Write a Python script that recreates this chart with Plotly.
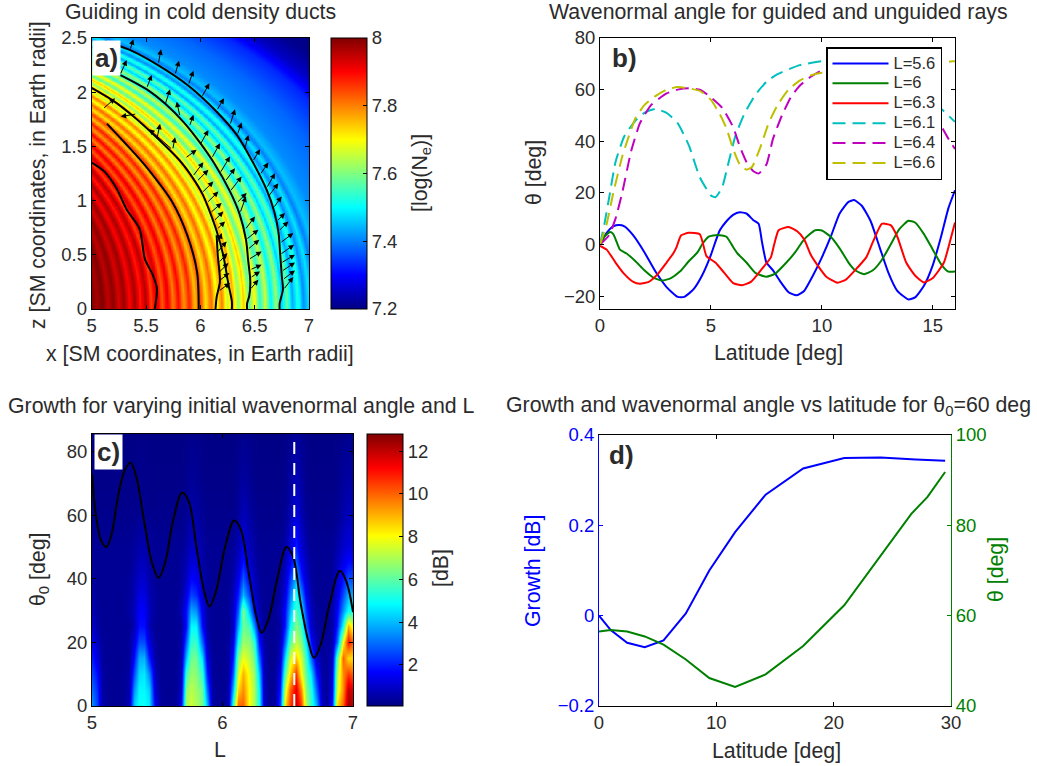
import numpy as np
import plotly.graph_objects as go

W, H = 1037, 766
FONT = "Liberation Sans"
INK = "#2b2b2b"
JET = [[0, "#000083"], [0.125, "#0000ff"], [0.375, "#00ffff"], [0.625, "#ffff00"], [0.875, "#ff0000"], [1, "#800000"]]

# ---------- panel a: log density along the L shell
duct_L = [4.9, 5.0, 5.05, 5.1, 5.15, 5.2, 5.25, 5.3, 5.35, 5.4, 5.45, 5.5, 5.55, 5.6, 5.65, 5.7, 5.75, 5.8, 5.85,
          5.9, 5.95, 6.0, 6.05, 6.1, 6.15, 6.2, 6.25, 6.3, 6.35, 6.4, 6.45, 6.5, 6.55, 6.6, 6.65, 6.7, 6.75, 6.8,
          6.85, 6.9, 6.95, 7.0, 7.05, 7.1, 7.2, 7.5, 7.8, 8.0, 8.2, 8.4, 8.6]
duct_logNe = [8.0, 8.0, 7.97, 8.0, 7.95, 7.99, 7.93, 7.98, 7.90, 7.97, 7.88, 7.96, 7.85, 7.94, 7.83, 7.92, 7.80, 7.90, 7.78,
              7.88, 7.75, 7.85, 7.72, 7.82, 7.69, 7.80, 7.65, 7.77, 7.61, 7.74, 7.57, 7.70, 7.53, 7.66, 7.49, 7.62, 7.46, 7.58,
              7.43, 7.53, 7.41, 7.48, 7.40, 7.45, 7.41, 7.38, 7.33, 7.25, 7.21, 7.2, 7.2]

ray1_x = [5.0, 5.12, 5.23, 5.32, 5.44, 5.49, 5.56, 5.60, 5.58]
ray1_z = [1.35, 1.265, 1.11, 0.92, 0.74, 0.46, 0.32, 0.19, 0.0]
ray2_x = [5.14, 5.44, 5.54, 5.74, 5.88, 5.97, 5.985]
ray2_z = [1.71, 1.385, 1.265, 0.99, 0.68, 0.34, 0.0]
ray3_x = [5.0, 5.2, 5.38, 5.6, 5.81, 5.93, 6.02, 6.09, 6.15, 6.21, 6.26, 6.29, 6.29]
ray3_z = [2.04, 1.92, 1.78, 1.58, 1.37, 1.21, 1.06, 0.89, 0.72, 0.5, 0.22, 0.07, 0.0]
ray3b_x = [6.15, 6.16, 6.18, 6.15, 6.14]
ray3b_z = [0.68, 0.50, 0.25, 0.11, 0.0]
ray4_x = [5.26, 5.5, 5.68, 5.85, 6.0, 6.13, 6.27, 6.36, 6.42, 6.44, 6.46, 6.45, 6.43, 6.43]
ray4_z = [2.16, 2.03, 1.89, 1.72, 1.53, 1.34, 1.09, 0.88, 0.64, 0.45, 0.25, 0.12, 0.05, 0.0]
ray5_x = [5.12, 5.35, 5.61, 5.89, 6.15, 6.34, 6.48, 6.61, 6.68, 6.72, 6.735, 6.75, 6.76, 6.73, 6.73]
ray5_z = [2.47, 2.39, 2.25, 2.06, 1.82, 1.6, 1.36, 1.1, 0.9, 0.7, 0.5, 0.3, 0.18, 0.05, 0.0]

arrow_x0 = [5.353, 5.613, 5.767, 5.890, 6.012, 6.150, 6.273, 6.340, 6.411, 6.482, 6.549, 6.610, 6.626, 6.672, 6.702, 6.718,
            6.733, 6.733, 6.742, 6.748, 6.758, 6.764,
            5.261, 5.506, 5.675, 5.813, 5.899, 5.997, 6.104, 6.181, 6.227, 6.273, 6.334, 6.365, 6.411, 6.420, 6.433,
            6.442, 6.457, 6.457, 6.457,
            5.101, 5.414, 5.598, 5.745, 5.859, 5.929, 5.966, 6.012, 6.058, 6.089, 6.120, 6.150, 6.166, 6.150, 6.166,
            6.166, 6.166, 6.166, 5.745]
arrow_z0 = [2.389, 2.260, 2.159, 2.067, 1.953, 1.830, 1.698, 1.606, 1.483, 1.361, 1.238, 1.115, 1.038, 0.931, 0.808, 0.716,
            0.608, 0.501, 0.424, 0.347, 0.270, 0.178,
            2.159, 2.036, 1.883, 1.775, 1.683, 1.514, 1.391, 1.253, 1.176, 1.084, 0.977, 0.885, 0.731, 0.639, 0.547,
            0.455, 0.362, 0.286, 0.178,
            1.843, 1.800, 1.560, 1.468, 1.391, 1.222, 1.176, 1.069, 0.977, 0.885, 0.808, 0.731, 0.608, 0.516, 0.424,
            0.332, 0.255, 0.163, 1.468]
arrow_x1 = [5.383, 5.638, 5.804, 5.936, 6.083, 6.218, 6.319, 6.380, 6.442, 6.549, 6.626, 6.687, 6.718, 6.748, 6.779, 6.810,
            6.856, 6.862, 6.871, 6.871, 6.871, 6.856,
            5.322, 5.552, 5.721, 5.782, 5.936, 6.074, 6.181, 6.273, 6.319, 6.380, 6.426, 6.420, 6.503, 6.534, 6.543,
            6.564, 6.564, 6.549, 6.534,
            5.215, 5.267, 5.629, 5.767, 5.966, 6.028, 6.074, 6.120, 6.166, 6.196, 6.212, 6.227, 6.196, 6.242, 6.249,
            6.258, 6.267, 6.273, 5.528]
arrow_z1 = [2.488, 2.396, 2.291, 2.199, 2.082, 1.944, 1.843, 1.720, 1.606, 1.474, 1.351, 1.253, 1.161, 1.038, 0.885, 0.808,
            0.700, 0.593, 0.501, 0.430, 0.356, 0.295,
            2.297, 2.159, 2.027, 1.913, 1.791, 1.652, 1.529, 1.407, 1.299, 1.222, 1.069, 1.038, 0.854, 0.731, 0.639,
            0.531, 0.408, 0.347, 0.270,
            1.944, 1.775, 1.708, 1.585, 1.468, 1.354, 1.284, 1.176, 1.084, 0.977, 0.900, 0.808, 0.700, 0.623, 0.516,
            0.424, 0.332, 0.240, 1.658]

# ---------- panel b
lat_56 = [0, .3, .6, .85, 1.1, 1.5, 2, 2.5, 3, 3.5, 3.8, 4.2, 4.6, 5, 5.2, 5.4, 5.7, 6, 6.3, 6.6, 6.9, 7.15, 7.3, 7.5, 7.8, 8.1,
          8.5, 8.85, 9.2, 9.6, 10, 10.4, 10.8, 11.2, 11.45, 11.8, 12.2, 12.6, 13, 13.4, 13.9, 14.2, 14.6, 15, 15.4, 15.7, 16]
theta_56 = [0, 4.5, 7, 7.5, 7, 3.5, -3, -10.5, -16.5, -20.3, -20.3, -17.5, -12, -4, 1, 5.5, 9, 11.5, 12.5, 12, 9.5, 8, 1, -7, -10, -14,
            -18.5, -19.7, -18, -12, -5, 3, 12, 16.5, 17.2, 15, 9, -1, -11, -18, -21.3, -20.5, -16, -8, 4, 14, 21]
lat_60 = [0, .2, .45, .6, .75, .9, 1.2, 1.6, 2, 2.4, 2.8, 3.2, 3.6, 4, 4.4, 4.6, 4.9, 5.3, 5.7, 6, 6.2, 6.6, 7, 7.5, 7.9, 8.4, 8.8,
          9.2, 9.7, 10, 10.4, 10.8, 11.2, 11.5, 11.9, 12.3, 12.7, 13.1, 13.5, 13.9, 14.2, 14.6, 15, 15.4, 15.7, 16]
theta_60 = [0, 3, 4.8, 4, 1, -2, -3.5, -6.5, -10, -12.8, -14, -13, -10.5, -6.5, -3, 0, 3, 3.7, 3, -1, -3.5, -7, -11, -12.5, -11.3, -7, -3,
            2, 5.5, 5.4, 3, -1.5, -7, -10, -11.5, -10, -6, 0, 6, 9.2, 8.5, 4, -2, -8, -10.5, -10.5]
lat_63 = [0, .3, .7, 1.1, 1.5, 1.8, 2.2, 2.6, 3, 3.3, 3.45, 3.65, 4, 4.5, 4.8, 5.2, 5.6, 6, 6.4, 6.8, 7.2, 7.7, 7.85, 8.05, 8.5, 8.9,
          9.2, 9.5, 9.8, 10.2, 10.7, 11.1, 11.6, 12, 12.3, 12.7, 13.1, 13.4, 13.8, 14.2, 14.6, 15, 15.5, 15.8, 16]
theta_63 = [-.5, -2, -7, -11.5, -14.5, -15.2, -14.5, -11.5, -7, -3.5, -1, 3.5, 4.5, 4, -4.5, -7, -11, -15, -15.8, -14.5, -10.5, -5, 0, 5.5, 6.8, 5,
            2, -4, -8, -12.5, -14.8, -13.5, -9, -5, 1, 8, 7.5, 3, -7, -12, -14.7, -13, -7, 2, 8.5]
lat_61 = [0, .2, .45, .7, 1.1, 1.6, 2, 2.5, 3, 3.5, 4, 4.5, 5, 5.2, 5.5, 5.8, 6.1, 6.5, 7, 7.5, 8, 9, 10, 10.5, 12, 13, 14.5, 15.2, 16]
theta_61 = [0, 8, 20, 32, 42, 48, 51, 52.5, 51, 47, 38.5, 26, 19, 18.3, 22, 32, 42, 50.5, 58, 63, 66, 69.5, 71, 71.5, 72, 67, 59, 54, 47.5]
lat_64 = [0, .4, .7, 1, 1.4, 1.8, 2.3, 3, 3.5, 4, 4.5, 5, 5.5, 6, 6.3, 6.6, 6.9, 7.15, 7.5, 7.8, 8.2, 8.6, 9, 9.5, 10, 10.6, 12, 14, 15.3, 15.7, 16]
theta_64 = [0, 3.5, 10, 20, 36, 47, 54, 58.5, 60, 60.5, 60, 57, 53, 45.5, 38, 32, 28.5, 27.5, 31, 41, 50, 57, 61.5, 65, 67.5, 69, 68, 60, 47, 41, 37]
lat_66 = [0, .3, .6, 1, 1.3, 1.6, 2, 2.5, 3, 3.5, 4, 4.5, 5, 5.4, 5.7, 6, 6.3, 6.6, 6.85, 7.2, 7.6, 8, 8.5, 9, 9.5, 10, 10.5, 12, 14, 15.9, 16]
theta_66 = [0, 8, 20, 34, 42, 49, 54, 57.5, 60, 61, 60.5, 59.5, 56, 50.5, 45, 37, 31, 29, 30, 37, 47, 54, 60, 63.5, 65.5, 66.5, 66.5, 67, 69, 71, 71]

# ---------- panel c
growth_L = [5.00, 5.04, 5.08, 5.12, 5.16, 5.20, 5.24, 5.28, 5.32, 5.36, 5.40, 5.44, 5.48, 5.52, 5.56, 5.60, 5.64, 5.68, 5.72, 5.76,
            5.80, 5.84, 5.88, 5.92, 5.96, 6.00, 6.04, 6.08, 6.12, 6.16, 6.20, 6.24, 6.28, 6.32, 6.36, 6.40, 6.44, 6.48, 6.52, 6.56,
            6.60, 6.64, 6.68, 6.72, 6.76, 6.80, 6.84, 6.88, 6.92, 6.96, 7.00]
growth_theta0 = [0, 5, 10, 15, 20, 25, 30, 35, 40, 45, 50, 60, 70, 85.5]
growth_dB = [
 [3.5,2.5,.6,.3,.3,.3,.3,.8,4.2,5.0, 5.0,4.6,1.5,.4,.3,.3,.4,1.5,7.0,7.4, 7.0,6.4,4.0,.6,.3,.3,.6,5.5,10,10, 8,7,5,1,.3,.5,2.5,8.5,10.5,11.8, 10.5,7,5.5,4,.8,.4,2,8.5,10,12.5, 12],
 [3.0,2.2,.5,.3,.3,.3,.3,.6,3.5,4.8, 4.8,4.3,1.0,.4,.3,.3,.3,1.0,6.5,7.2, 6.8,6.2,3.0,.5,.3,.3,.5,4.0,8.5,9.5, 8,7,4.8,.8,.3,.4,2.0,7.5,10,11.5, 9.5,6.5,5.2,3,.6,.4,1.5,7.5,9.5,12, 11.5],
 [2.5,1.8,.5,.3,.3,.3,.3,.5,2.6,4.4, 4.6,3.4,.8,.3,.3,.3,.3,.8,5.5,6.8, 6.5,5.5,2,.4,.3,.3,.4,2.8,7.5,9, 7.8,6.8,4.2,.7,.3,.4,1.5,6,8.5,10.5, 8,6,4.5,2,.5,.4,1.2,7,9.5,10.5, 10],
 [2.0,1.2,.4,.3,.3,.3,.3,.4,1.8,3.8, 3.9,2.0,.5,.3,.3,.3,.3,.6,4,6.3, 6.2,4.5,1.2,.4,.3,.3,.4,2,6.5,7.8, 7.2,6.2,3,.6,.3,.3,1,4.5,7.5,8.6, 7.5,5.5,3,1,.4,.4,.9,6,10,8.5, 8.5],
 [1.5,.8,.4,.3,.3,.3,.3,.4,1.2,2.6, 2.6,1.2,.4,.3,.3,.3,.3,.5,2.8,5.5, 5.5,3,.8,.3,.3,.3,.4,1.3,5,6.8, 6.6,5.5,1.8,.5,.3,.3,.7,3,6,7.2, 6.5,4.5,1.8,.6,.4,.4,.6,3,8,11, 10],
 [1.0,.5,.3,.3,.3,.3,.3,.3,.7,1.8, 1.8,.7,.3,.3,.3,.3,.3,.4,1.8,4.8, 4.8,1.8,.5,.3,.3,.3,.3,.9,3.8,6.2, 5.8,3.5,.9,.4,.3,.3,.5,2,4.8,6.5, 5.6,3,.9,.5,.3,.3,.5,2,5,9, 7.5],
 [.8,.4,.3,.3,.3,.3,.3,.5,.8,1.6, 1.6,.8,.4,.3,.3,.3,.3,.7,1.8,3.8, 3.5,1.4,.5,.3,.3,.3,.4,.9,2.8,6.5, 4,1.8,.6,.3,.3,.3,.7,1.8,4,5.8, 4.8,2.2,.8,.4,.3,.3,.6,1.6,3.5,5, 5],
 [.6,.3,.3,.3,.3,.3,.3,.4,.7,1.3, 1.3,.7,.4,.3,.3,.3,.3,.5,1.3,2.5, 2.2,1,.4,.3,.3,.3,.3,.8,2,4, 2.5,1,.5,.3,.3,.3,.5,1.3,3.2,5, 3.5,1.4,.6,.3,.3,.3,.5,1.2,2.6,3.8, 3.8],
 [.5,.3,.3,.3,.3,.3,.3,.4,.6,1, 1,.6,.3,.3,.3,.3,.3,.4,.9,1.7, 1.5,.7,.4,.3,.3,.3,.3,.6,1.4,2.8, 1.6,.8,.4,.3,.3,.3,.4,1,2.4,4, 2.2,1,.5,.3,.3,.3,.4,1,1.9,2.6, 2.6],
 [.4,.3,.3,.3,.3,.3,.3,.3,.5,.8, .8,.5,.3,.3,.3,.3,.3,.4,.7,1.2, 1.1,.6,.3,.3,.3,.3,.3,.5,1,1.9, 1.1,.6,.3,.3,.3,.3,.4,.8,1.6,2.8, 1.5,.8,.4,.3,.3,.3,.4,.8,1.4,1.8, 1.8],
 [.3,.3,.3,.3,.3,.3,.3,.3,.4,.6, .6,.4,.3,.3,.3,.3,.3,.3,.5,.9, .8,.5,.3,.3,.3,.3,.3,.4,.7,1.3, .8,.5,.3,.3,.3,.3,.3,.6,1.2,2, 1.1,.6,.3,.3,.3,.3,.3,.6,1,1.2, 1.2],
 [.2,.2,.2,.2,.2,.2,.2,.2,.2,.3, .3,.2,.2,.2,.2,.2,.2,.2,.3,.6, .5,.3,.2,.2,.2,.2,.2,.2,.4,.8, .5,.3,.2,.2,.2,.2,.2,.3,.7,1.3, .7,.3,.2,.2,.2,.2,.2,.3,.6,.8, .8],
 [.15,.15,.15,.15,.15,.15,.15,.15,.15,.2, .2,.15,.15,.15,.15,.15,.15,.15,.2,.4, .3,.2,.15,.15,.15,.15,.15,.15,.3,.5, .3,.2,.15,.15,.15,.15,.15,.2,.5,.8, .5,.2,.15,.15,.15,.15,.15,.2,.4,.5, .5],
 [.12,.12,.12,.12,.12,.12,.12,.12,.12,.15, .15,.12,.12,.12,.12,.12,.12,.12,.15,.2, .2,.15,.12,.12,.12,.12,.12,.12,.15,.25, .2,.15,.12,.12,.12,.12,.12,.15,.25,.4, .25,.15,.12,.12,.12,.12,.12,.15,.2,.25, .25],
]
for row in growth_dB:
    assert len(row) == len(growth_L), len(row)

black_L = [5, 5.03, 5.07, 5.11, 5.15, 5.2, 5.25, 5.295, 5.34, 5.4, 5.46, 5.51, 5.56, 5.62, 5.69, 5.74, 5.8, 5.86, 5.90, 5.95, 6.02, 6.09, 6.14,
           6.2, 6.26, 6.30, 6.35, 6.42, 6.49, 6.54, 6.6, 6.66, 6.70, 6.75, 6.82, 6.90, 6.95, 7]
black_theta0 = [73, 60, 52, 50, 54, 66, 74, 76.5, 72, 58, 45, 40.3, 45, 58, 67, 64.5, 50, 36, 31.3, 36, 50, 58.3, 55.5,
                42, 28, 23, 27, 40, 50, 47, 32, 20, 15.2, 19, 32, 42.5, 39, 29.5]
marker_L = [6.55, 6.55]
marker_theta0 = [0, 85.5]

# ---------- panel d
d_lat = [0, 1, 2.4, 3.9, 5.5, 7.4, 9.4, 11.6, 14.2, 17.4, 20.9, 24, 27, 29.5]
d_growth = [0, -.032, -.06, -.07, -.055, .005, .1, .185, .268, .326, .349, .35, .346, .343]
d_lat2 = [0, 1, 2.4, 3.9, 5.5, 7.4, 9.4, 11.6, 14.2, 17.4, 20.9, 23.7, 26.6, 28, 29.5]
d_theta = [56.5, 56.8, 56.5, 55.4, 53.6, 50.3, 46.2, 44.2, 47, 53.3, 62.3, 72.3, 82.5, 86.3, 91.8]

# ---------- panel a image from the L-shell profile (dipole field-line coordinate)
grid_x = np.linspace(5, 7, 300)
grid_z = np.linspace(0, 2.5, 340)
gx, gz = np.meshgrid(grid_x, grid_z)
shell = (gx**2 + gz**2) ** 1.5 / gx**2
density = np.interp(shell, duct_L, duct_logNe)


def xdom(a, b):
    return [a / W, b / W]


def ydom(top, bottom):
    return [1 - bottom / H, 1 - top / H]


def cbar(left, top, bottom, vals, texts):
    return dict(x=left / W, xanchor="left", xpad=0, y=1 - bottom / H, yanchor="bottom", ypad=0,
                len=(bottom - top) / H, lenmode="fraction", thickness=36, thicknessmode="pixels",
                outlinecolor="black", outlinewidth=1, ticks="inside", ticklen=4, tickcolor="black",
                tickvals=vals, ticktext=texts, tickfont=dict(family=FONT, size=18.5, color=INK))


fig = go.Figure()
fig.add_trace(go.Heatmap(x=grid_x, y=grid_z, z=density, zmin=7.2, zmax=8, colorscale=JET, xaxis="x", yaxis="y",
                         colorbar=cbar(331, 38, 309, [7.2, 7.4, 7.6, 7.8, 8], ["7.2", "7.4", "7.6", "7.8", "8"]),
                         showscale=True, hoverinfo="skip"))
for rx, rz in [(ray1_x, ray1_z), (ray2_x, ray2_z), (ray3_x, ray3_z), (ray3b_x, ray3b_z), (ray4_x, ray4_z), (ray5_x, ray5_z)]:
    fig.add_trace(go.Scatter(x=rx, y=rz, mode="lines", line=dict(color="black", width=2, shape="spline", smoothing=0.8),
                             xaxis="x", yaxis="y", showlegend=False))

series_b = [("L=5.6", lat_56, theta_56, "#0000ff", "solid"), ("L=6", lat_60, theta_60, "#008000", "solid"),
            ("L=6.3", lat_63, theta_63, "#ff0000", "solid"), ("L=6.1", lat_61, theta_61, "#00bfbf", "13px,7px"),
            ("L=6.4", lat_64, theta_64, "#bf00bf", "13px,7px"), ("L=6.6", lat_66, theta_66, "#bfbf00", "13px,7px")]
for name, la, th, col, dash in series_b:
    fig.add_trace(go.Scatter(x=la, y=th, name=f"<span style='font-size:16.5px'>{name}</span>", mode="lines", xaxis="x2", yaxis="y2",
                             line=dict(color=col, width=2, dash=dash, shape="spline", smoothing=0.5)))

fig.add_trace(go.Heatmap(x=growth_L, y=growth_theta0, z=growth_dB, zmin=0.08, zmax=12.8, colorscale=JET, zsmooth="best",
                         xaxis="x3", yaxis="y3", hoverinfo="skip",
                         colorbar=cbar(367, 434, 706, [2, 4, 6, 8, 10, 12], ["2", "4", "6", "8", "10", "12"])))
fig.add_trace(go.Scatter(x=black_L, y=black_theta0, mode="lines", line=dict(color="black", width=2, shape="spline", smoothing=1.0),
                         xaxis="x3", yaxis="y3", showlegend=False))
fig.add_trace(go.Scatter(x=marker_L, y=marker_theta0, mode="lines", line=dict(color="white", width=2, dash="12px,9px"),
                         xaxis="x3", yaxis="y3", showlegend=False))

fig.add_trace(go.Scatter(x=d_lat, y=d_growth, mode="lines", line=dict(color="#0000ff", width=2), xaxis="x4", yaxis="y4", showlegend=False))
fig.add_trace(go.Scatter(x=d_lat2, y=d_theta, mode="lines", line=dict(color="#008000", width=2), xaxis="x4", yaxis="y5", showlegend=False))


def axis(dom, rng, vals, color="black", inkcol=INK, **kw):
    d = dict(domain=dom, range=rng, tickvals=vals, ticks="inside", ticklen=4, tickcolor=color, linecolor=color,
             linewidth=1, mirror="ticks", showgrid=False, zeroline=False, showline=True, automargin=False,
             tickfont=dict(family=FONT, size=18.5, color=inkcol))
    d.update(kw)
    return d


layout = dict(
    width=W, height=H, margin=dict(l=0, r=0, t=0, b=0), paper_bgcolor="white", plot_bgcolor="white",
    font=dict(family=FONT, size=18, color=INK),
    xaxis=axis(xdom(91.7, 309), [5, 7], [5, 5.5, 6, 6.5, 7], anchor="y"),
    yaxis=axis(ydom(38, 309), [0, 2.5], [0, .5, 1, 1.5, 2, 2.5], anchor="x"),
    xaxis2=axis(xdom(600, 955), [0, 16], [0, 5, 10, 15], anchor="y2"),
    yaxis2=axis(ydom(38, 309), [-25, 80], [-20, 0, 20, 40, 60, 80], anchor="x2"),
    xaxis3=axis(xdom(92, 353), [5, 7], [5, 6, 7], anchor="y3"),
    yaxis3=axis(ydom(434, 706), [0, 85.5], [0, 20, 40, 60, 80], anchor="x3"),
    xaxis4=axis(xdom(599, 951), [0, 30], [0, 10, 20, 30], anchor="y4"),
    yaxis4=axis(ydom(435, 706), [-.2, .4], [-.2, 0, .2, .4], color="#0000ff", inkcol="#0000ff", anchor="x4", mirror=False),
    yaxis5=axis(ydom(435, 706), [40, 100], [40, 60, 80, 100], color="#008000", inkcol="#008000",
                anchor="x4", overlaying="y4", side="right", mirror=False),
    legend=dict(x=826 / W, xanchor="left", y=1 - 47 / H, yanchor="top", bgcolor="white", bordercolor="black", borderwidth=1.5,
                font=dict(family=FONT, size=13, color=INK), itemwidth=56, entrywidth=50, entrywidthmode="pixels", tracegroupgap=0),
)
fig.update_layout(**layout)


def note(px, py, text, size=21.3, color=INK, angle=0, bg=None, xa="center"):
    d = dict(xref="paper", yref="paper", x=px / W, y=1 - py / H, text=text, showarrow=False, xanchor=xa, yanchor="middle",
             textangle=angle, font=dict(family=FONT, size=size, color=color))
    if bg:
        d.update(bgcolor=bg, borderpad=2)
    return d


notes = [
    note(200, 12, "Guiding in cold density ducts"),
    note(778, 12, "Wavenormal angle for guided and unguided rays"),
    note(241, 406, "Growth for varying initial wavenormal angle and L"),
    note(768, 406, "Growth and wavenormal angle vs latitude for θ<sub>0</sub>=60 deg"),
    note(200, 354, "x [SM coordinates, in Earth radii]"),
    note(38, 175, "z [SM coordinates, in Earth radii]", angle=-90),
    note(778, 353, "Latitude [deg]"),
    note(534, 173, "θ [deg]", angle=-90),
    note(220, 750, "L"),
    note(39, 570, "θ<sub>0</sub> [deg]", angle=-90),
    note(776, 751, "Latitude [deg]"),
    note(533, 571, "Growth [dB]", angle=-90, color="#0000ff"),
    note(996, 570, "θ [deg]", angle=-90, color="#008000"),
    note(421, 173, "[log(N<sub>e</sub>)]", angle=-90),
    note(441, 568, "[dB]", angle=-90),
    note(106, 58, "<b>a)</b>", size=26, bg="white"),
    note(624, 58, "<b>b)</b>", size=26),
    note(108, 452, "<b>c)</b>", size=26, bg="white"),
    note(621, 455, "<b>d)</b>", size=26),
]
for a, b, c, d in zip(arrow_x0, arrow_z0, arrow_x1, arrow_z1):
    notes.append(dict(xref="x", yref="y", axref="x", ayref="y", ax=a, ay=b, x=c, y=d, text="", showarrow=True,
                      arrowhead=2, arrowsize=1.1, arrowwidth=1, arrowcolor="black", standoff=0, startstandoff=0))
fig.update_layout(annotations=notes)

fig.write_html("out.html", config=dict(displayModeBar=False), post_script="document.body.style.margin='0';")
